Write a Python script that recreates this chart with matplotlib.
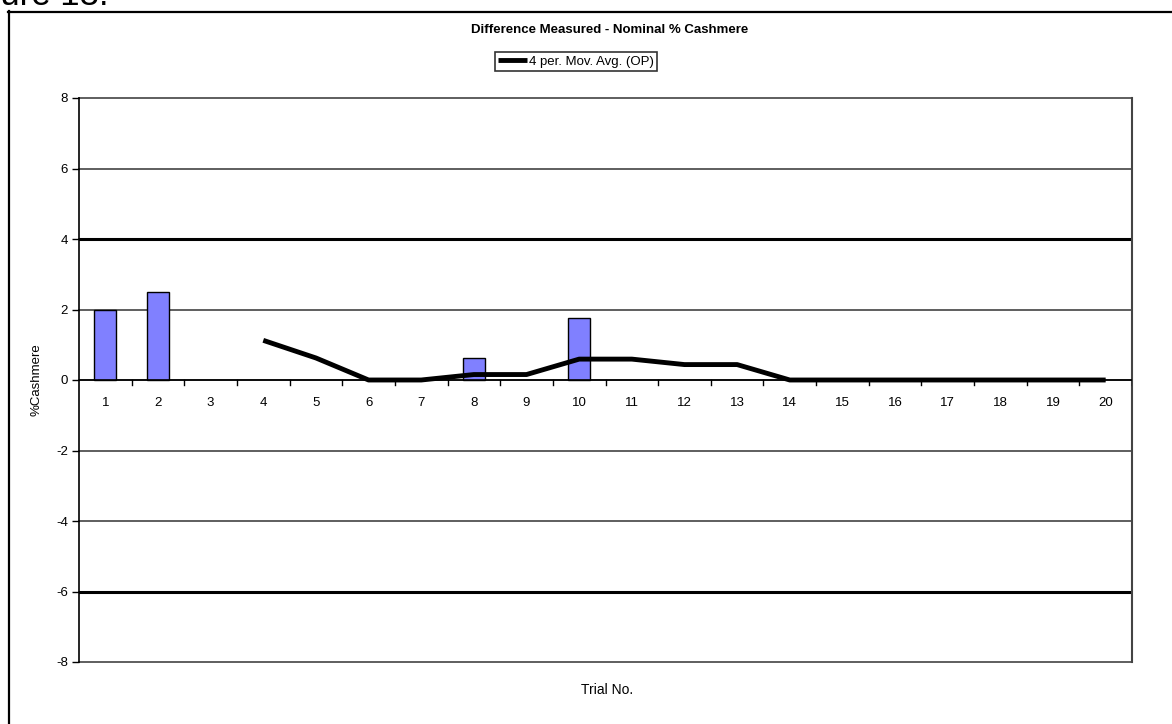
import numpy as np
import pandas as pd
import matplotlib
matplotlib.use("Agg")
import matplotlib.pyplot as plt
from matplotlib.lines import Line2D

plt.rcParams['font.family'] = ['Liberation Sans', 'DejaVu Sans']

# measured - nominal difference per trial (% cashmere)
trials = list(range(1, 21))
op = [2.0, 2.5, 0, 0, 0, 0, 0, 0.62, 0, 1.75,
      0, 0, 0, 0, 0, 0, 0, 0, 0, 0]
yticks = [-8, -6, -4, -2, 0, 2, 4, 6, 8]
limits = [4, -6]

# 4 period moving average of OP
mov_avg = pd.Series(op).rolling(4).mean().values

W, H = 1172, 724
fig = plt.figure(figsize=(W / 100, H / 100), dpi=100)
ax = fig.add_axes([79 / W, (H - 662) / H, 1053 / W, 564 / H])

bars = ax.bar(trials, op, width=0.42, color='#8080FF', edgecolor='black', linewidth=1, zorder=3)
for p in bars:
    if p.get_height() == 0:
        p.set_visible(False)
mline, = ax.plot(trials, mov_avg, color='black', lw=3.5, solid_capstyle='butt', zorder=4,
                 label='4 per. Mov. Avg. (OP)')

ax.set_xlim(0.5, 20.5)
ax.set_ylim(-8, 8)

# grid and control limits
for y in yticks:
    ax.axhline(y, color='#333333', lw=1.1, zorder=1, clip_on=False)
for y in limits:
    ax.axhline(y, color='black', lw=2.2, zorder=2)

for s in ['top', 'bottom']:
    ax.spines[s].set_visible(False)
ax.spines['left'].set_color('black')
ax.spines['left'].set_linewidth(1.2)
ax.spines['right'].set_color('#444444')
ax.spines['right'].set_linewidth(1.5)

# category axis crossing at zero
ax.axhline(0, color='black', lw=1.2, zorder=3.5)
ax.set_xticks([])
for b in np.arange(1.5, 21, 1):
    ax.plot([b, b], [0, -0.13], color='black', lw=1, zorder=5)
for t in trials:
    ax.text(t, -0.65, str(t), ha='center', va='center', fontsize=9.5)

ax.set_yticks(yticks)
ax.set_yticklabels([str(v) for v in yticks])
ax.tick_params(axis='y', length=5, width=1, labelsize=9.5, pad=3)

fig.text(610 / W, 1 - 30 / H, 'Difference Measured - Nominal % Cashmere',
         ha='center', va='center', fontsize=9.5, fontweight='bold')
fig.text(607 / W, 1 - 690 / H, 'Trial No.', ha='center', va='center', fontsize=10)
fig.text(37 / W, 1 - 380 / H, '%Cashmere', ha='center', va='center', fontsize=9.5, rotation=90)
fig.text(108 / W, 1 - 5 / H, 'Figure 13.', ha='right', va='baseline', fontsize=25)

leg = fig.legend(handles=[mline], loc='center', bbox_to_anchor=(576 / W, 1 - 61.5 / H),
                 frameon=True, fancybox=False, edgecolor='black', fontsize=9.5,
                 handlelength=2.2, handletextpad=0.1, borderpad=0.25, borderaxespad=0)
leg.get_frame().set_linewidth(1.2)

# outer chart border
fig.add_artist(Line2D([8.5 / W, 8.5 / W], [0, 1 - 11 / H], transform=fig.transFigure,
                      color='black', lw=1.6))
fig.add_artist(Line2D([8 / W, 1], [1 - 11.5 / H, 1 - 11.5 / H], transform=fig.transFigure,
                      color='black', lw=1.6))

fig.savefig('out.png', dpi=100)
